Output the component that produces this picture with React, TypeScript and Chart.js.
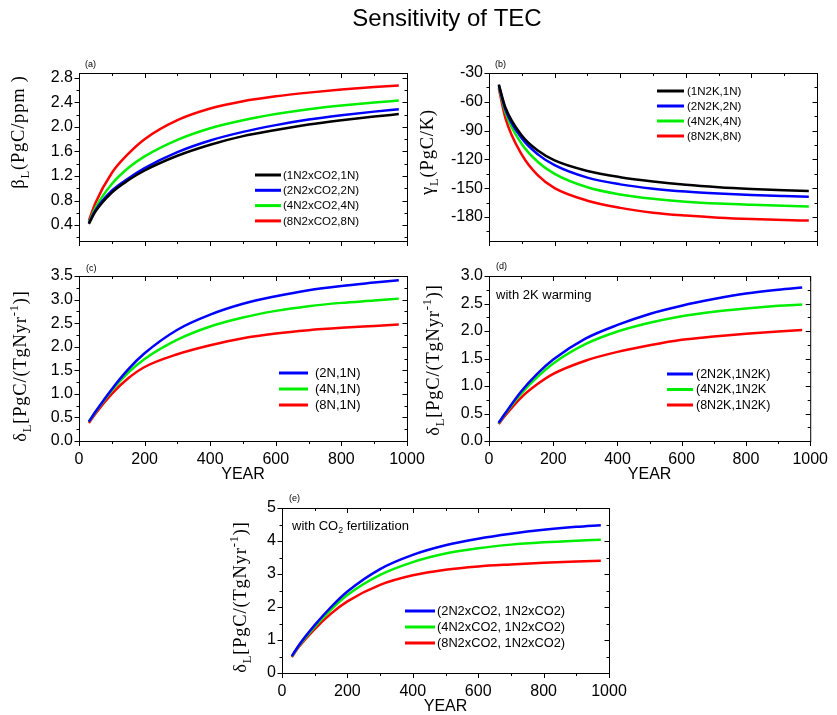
import React, { useEffect, useRef } from "react";
import { Chart, registerables } from "chart.js";
Chart.register(...registerables);

const W = 837;
const H = 715;
const SANS = '"Liberation Sans", Arial, sans-serif';
const SERIF = '"Liberation Serif", "Times New Roman", serif';

const BLACK = "#000000";
const BLUE = "#0000ff";
const GREEN = "#00ee00";
const RED = "#ff0000";

// ---------------- data ----------------
const YEARS = [30, 50, 100, 150, 200, 300, 400, 500, 600, 700, 800, 900, 975];
const X_TICKS = [0, 200, 400, 600, 800, 1000];
const X_MINOR = [100, 300, 500, 700, 900];

// (a) beta_L
const A_LABELS = ["(1N2xCO2,1N)", "(2N2xCO2,2N)", "(4N2xCO2,4N)", "(8N2xCO2,8N)"];
const A_1N = [0.42, 0.62, 0.93, 1.13, 1.29, 1.53, 1.71, 1.85, 1.95, 2.04, 2.11, 2.17, 2.21];
const A_2N = [0.43, 0.64, 0.96, 1.16, 1.33, 1.59, 1.78, 1.92, 2.03, 2.12, 2.19, 2.25, 2.29];
const A_4N = [0.44, 0.68, 1.07, 1.33, 1.52, 1.79, 1.98, 2.11, 2.21, 2.29, 2.35, 2.4, 2.43];
const A_8N = [0.47, 0.76, 1.25, 1.56, 1.8, 2.11, 2.3, 2.42, 2.5, 2.56, 2.61, 2.65, 2.675];
const A_Y_TICKS = [0.4, 0.8, 1.2, 1.6, 2.0, 2.4, 2.8];
const A_Y_MINOR = [0.2, 0.6, 1.0, 1.4, 1.8, 2.2, 2.6];

// (b) gamma_L
const B_LABELS = ["(1N2K,1N)", "(2N2K,2N)", "(4N2K,4N)", "(8N2K,8N)"];
const B_1N = [-42, -66, -95, -111, -121, -132, -138.5, -143, -146.5, -149, -150.8, -152.2, -153];
const B_2N = [-43, -68, -98, -115, -126, -139, -146, -150.5, -153.5, -155.5, -157, -158.2, -159];
const B_4N = [-44, -71, -104, -123, -135, -149, -156.5, -161, -164, -166, -167.3, -168.3, -169];
const B_8N = [-46, -77, -115, -137, -150, -163, -170.5, -175.5, -178.5, -180.7, -182.2, -183.2, -183.7];
const B_Y_TICKS = [-30, -60, -90, -120, -150, -180];
const B_Y_MINOR = [-45, -75, -105, -135, -165, -195];

// (c) delta_L
const C_LABELS = ["(2N,1N)", "(4N,1N)", "(8N,1N)"];
const C_2N = [0.41, 0.62, 1.1, 1.52, 1.86, 2.36, 2.68, 2.91, 3.07, 3.2, 3.29, 3.36, 3.41];
const C_4N = [0.41, 0.61, 1.07, 1.45, 1.74, 2.15, 2.43, 2.62, 2.76, 2.86, 2.93, 2.98, 3.02];
const C_8N = [0.38, 0.58, 1.0, 1.33, 1.57, 1.84, 2.03, 2.18, 2.28, 2.35, 2.4, 2.44, 2.47];
const C_Y_TICKS = [0, 0.5, 1.0, 1.5, 2.0, 2.5, 3.0, 3.5];
const C_Y_MINOR = [0.25, 0.75, 1.25, 1.75, 2.25, 2.75, 3.25];

// (d) delta_L with 2K warming
const D_LABELS = ["(2N2K,1N2K)", "(4N2K,1N2K", "(8N2K,1N2K)"];
const D_2N = [0.33, 0.5, 0.9, 1.22, 1.48, 1.86, 2.11, 2.31, 2.46, 2.58, 2.68, 2.75, 2.79];
const D_4N = [0.32, 0.49, 0.86, 1.16, 1.41, 1.76, 1.99, 2.15, 2.27, 2.35, 2.41, 2.46, 2.48];
const D_8N = [0.31, 0.46, 0.79, 1.03, 1.22, 1.46, 1.62, 1.74, 1.84, 1.9, 1.95, 1.99, 2.02];
const D_Y_TICKS = [0, 0.5, 1.0, 1.5, 2.0, 2.5, 3.0];
const D_Y_MINOR = [0.25, 0.75, 1.25, 1.75, 2.25, 2.75];

// (e) delta_L with CO2 fertilization
const E_LABELS = ["(2N2xCO2, 1N2xCO2)", "(4N2xCO2, 1N2xCO2)", "(8N2xCO2, 1N2xCO2)"];
const E_2N = [0.51, 0.82, 1.45, 2.0, 2.47, 3.15, 3.58, 3.87, 4.07, 4.22, 4.34, 4.43, 4.48];
const E_4N = [0.5, 0.8, 1.4, 1.92, 2.36, 2.97, 3.36, 3.62, 3.78, 3.89, 3.96, 4.01, 4.04];
const E_8N = [0.48, 0.77, 1.33, 1.8, 2.17, 2.67, 2.96, 3.13, 3.23, 3.29, 3.34, 3.38, 3.4];
const E_Y_TICKS = [0, 1, 2, 3, 4, 5];
const E_Y_MINOR = [0.5, 1.5, 2.5, 3.5, 4.5];

// ---------------- panel specs ----------------
type Seg = { t: string; sub?: boolean; sup?: boolean };
interface Series { label: string; color: string; data: number[] }
interface Panel {
  id: string;
  letter: string;
  letterPos: [number, number];
  plot: { l: number; r: number; t: number; b: number };
  yMin: number;
  yMax: number;
  yTicks: number[];
  yMinor: number[];
  yDec: number;
  xLabels: boolean;
  series: Series[];
  legend: { x0: number; x1: number; tx: number; y0: number; dy: number; size: number };
  note?: { x: number; y: number; segs: Seg[] };
  yTitle: { x: number; cy: number; segs: Seg[] };
  mainTitle?: boolean;
}

const DELTA_TITLE: Seg[] = [
  { t: "δ" },
  { t: "L", sub: true },
  { t: "[PgC/(TgNyr" },
  { t: "-1", sup: true },
  { t: ")]" },
];

const PANELS: Panel[] = [
  {
    id: "a",
    letter: "(a)",
    letterPos: [85, 65],
    plot: { l: 79, r: 407, t: 73, b: 241 },
    yMin: 0.14,
    yMax: 2.88,
    yTicks: A_Y_TICKS,
    yMinor: A_Y_MINOR,
    yDec: 1,
    xLabels: false,
    series: [
      { label: A_LABELS[0], color: BLACK, data: A_1N },
      { label: A_LABELS[1], color: BLUE, data: A_2N },
      { label: A_LABELS[2], color: GREEN, data: A_4N },
      { label: A_LABELS[3], color: RED, data: A_8N },
    ],
    legend: { x0: 255, x1: 281, tx: 283, y0: 175, dy: 15.3, size: 11.5 },
    yTitle: { x: 18, cy: 132, segs: [{ t: "β" }, { t: "L", sub: true }, { t: "(PgC/ppm )" }] },
    mainTitle: true,
  },
  {
    id: "b",
    letter: "(b)",
    letterPos: [495, 65],
    plot: { l: 489, r: 817, t: 73, b: 241 },
    yMin: -205,
    yMax: -30,
    yTicks: B_Y_TICKS,
    yMinor: B_Y_MINOR,
    yDec: 0,
    xLabels: false,
    series: [
      { label: B_LABELS[0], color: BLACK, data: B_1N },
      { label: B_LABELS[1], color: BLUE, data: B_2N },
      { label: B_LABELS[2], color: GREEN, data: B_4N },
      { label: B_LABELS[3], color: RED, data: B_8N },
    ],
    legend: { x0: 657, x1: 684, tx: 687, y0: 91, dy: 15, size: 11.5 },
    yTitle: { x: 427, cy: 152, segs: [{ t: "γ" }, { t: "L", sub: true }, { t: "(PgC/K)" }] },
  },
  {
    id: "c",
    letter: "(c)",
    letterPos: [86, 269],
    plot: { l: 79, r: 407, t: 276, b: 441 },
    yMin: 0,
    yMax: 3.5,
    yTicks: C_Y_TICKS,
    yMinor: C_Y_MINOR,
    yDec: 1,
    xLabels: true,
    series: [
      { label: C_LABELS[0], color: BLUE, data: C_2N },
      { label: C_LABELS[1], color: GREEN, data: C_4N },
      { label: C_LABELS[2], color: RED, data: C_8N },
    ],
    legend: { x0: 279, x1: 308, tx: 315, y0: 373, dy: 16, size: 13 },
    yTitle: { x: 20, cy: 366, segs: DELTA_TITLE },
  },
  {
    id: "d",
    letter: "(d)",
    letterPos: [496, 267],
    plot: { l: 489, r: 817, t: 276, b: 441 },
    yMin: 0,
    yMax: 3,
    yTicks: D_Y_TICKS,
    yMinor: D_Y_MINOR,
    yDec: 1,
    xLabels: true,
    series: [
      { label: D_LABELS[0], color: BLUE, data: D_2N },
      { label: D_LABELS[1], color: GREEN, data: D_4N },
      { label: D_LABELS[2], color: RED, data: D_8N },
    ],
    legend: { x0: 667, x1: 693, tx: 696, y0: 374, dy: 15.5, size: 12.5 },
    note: { x: 496, y: 294, segs: [{ t: "with 2K warming" }] },
    yTitle: { x: 433, cy: 360, segs: DELTA_TITLE },
  },
  {
    id: "e",
    letter: "(e)",
    letterPos: [289, 499],
    plot: { l: 282, r: 609, t: 508, b: 673 },
    yMin: 0,
    yMax: 5,
    yTicks: E_Y_TICKS,
    yMinor: E_Y_MINOR,
    yDec: 0,
    xLabels: true,
    series: [
      { label: E_LABELS[0], color: BLUE, data: E_2N },
      { label: E_LABELS[1], color: GREEN, data: E_4N },
      { label: E_LABELS[2], color: RED, data: E_8N },
    ],
    legend: { x0: 405, x1: 435, tx: 437, y0: 611, dy: 16, size: 12.8 },
    note: { x: 292, y: 525, segs: [{ t: "with CO" }, { t: "2", sub: true }, { t: " fertilization" }] },
    yTitle: { x: 240, cy: 597, segs: DELTA_TITLE },
  },
];

// ---------------- drawing helpers ----------------
function drawSegs(
  ctx: CanvasRenderingContext2D,
  segs: Seg[],
  x: number,
  baseline: number,
  size: number,
  family: string,
  center: boolean,
  spacing = 0
) {
  const parts = segs.map((s) => {
    const fs = s.sub || s.sup ? size * 0.68 : size;
    ctx.font = `${fs}px ${family}`;
    const chars = Array.from(s.t).map((ch) => ({ ch, w: ctx.measureText(ch).width + spacing }));
    const w = spacing ? chars.reduce((a, c) => a + c.w, 0) : ctx.measureText(s.t).width;
    return { ...s, fs, chars, w };
  });
  const total = parts.reduce((acc, p) => acc + p.w, 0);
  let cx = center ? x - total / 2 : x;
  ctx.textAlign = "left";
  ctx.textBaseline = "alphabetic";
  for (const p of parts) {
    ctx.font = `${p.fs}px ${family}`;
    const dy = p.sub ? size * 0.25 : p.sup ? -size * 0.42 : 0;
    if (spacing) {
      for (const c of p.chars) {
        ctx.fillText(c.ch, cx, baseline + dy);
        cx += c.w;
      }
    } else {
      ctx.fillText(p.t, cx, baseline + dy);
      cx += p.w;
    }
  }
}

function decor(p: Panel) {
  return {
    id: "decor_" + p.id,
    afterDatasetsDraw(chart: any) {
      const ctx: CanvasRenderingContext2D = chart.ctx;
      const a = chart.chartArea;
      const xs = chart.scales.x;
      const ys = chart.scales.y;
      ctx.save();
      ctx.strokeStyle = "#000";
      ctx.fillStyle = "#000";
      ctx.lineWidth = 1;
      // frame
      ctx.strokeRect(a.left + 0.5, a.top + 0.5, a.right - a.left, a.bottom - a.top);
      ctx.beginPath();
      const xTick = (v: number, len: number) => {
        const px = Math.round(xs.getPixelForValue(v)) + 0.5;
        ctx.moveTo(px, a.bottom);
        ctx.lineTo(px, a.bottom + len);
        ctx.moveTo(px, a.top);
        ctx.lineTo(px, a.top + len);
      };
      const yTick = (v: number, len: number) => {
        const py = Math.round(ys.getPixelForValue(v)) + 0.5;
        if (py < a.top || py > a.bottom + 1) return;
        ctx.moveTo(a.left - len + 0.5, py);
        ctx.lineTo(a.left + 0.5, py);
        ctx.moveTo(a.right + 0.5, py);
        ctx.lineTo(a.right + 0.5 - len, py);
      };
      X_TICKS.forEach((v) => xTick(v, 5));
      X_MINOR.forEach((v) => xTick(v, 3));
      p.yTicks.forEach((v) => yTick(v, 5));
      p.yMinor.forEach((v) => yTick(v, 3));
      ctx.stroke();

      // legend
      const lg = p.legend;
      p.series.forEach((s, i) => {
        const y = lg.y0 + i * lg.dy;
        ctx.beginPath();
        ctx.strokeStyle = s.color;
        ctx.lineWidth = 3;
        ctx.moveTo(lg.x0, y);
        ctx.lineTo(lg.x1, y);
        ctx.stroke();
        ctx.font = `${lg.size}px ${SANS}`;
        ctx.fillStyle = "#000";
        ctx.textAlign = "left";
        ctx.textBaseline = "middle";
        ctx.fillText(s.label, lg.tx, y + 0.5);
      });

      // panel letter
      ctx.fillStyle = "#000";
      ctx.font = `9px ${SANS}`;
      ctx.textAlign = "left";
      ctx.textBaseline = "middle";
      ctx.fillText(p.letter, p.letterPos[0], p.letterPos[1]);

      // note
      if (p.note) {
        drawSegs(ctx, p.note.segs, p.note.x, p.note.y + 4.5, 13, SANS, false);
      }

      // y title
      ctx.save();
      ctx.translate(p.yTitle.x, p.yTitle.cy);
      ctx.rotate(-Math.PI / 2);
      drawSegs(ctx, p.yTitle.segs, 0, 6, 18.5, SERIF, true, 0.8);
      ctx.restore();

      // x title
      if (p.xLabels) {
        ctx.font = `16px ${SANS}`;
        ctx.textAlign = "center";
        ctx.textBaseline = "middle";
        ctx.fillText("YEAR", (a.left + a.right) / 2, a.bottom + 34);
      }

      if (p.mainTitle) {
        ctx.font = `24px ${SANS}`;
        ctx.textAlign = "center";
        ctx.textBaseline = "alphabetic";
        ctx.fillText("Sensitivity of TEC", 447, 26);
      }
      ctx.restore();
    },
  };
}

function buildConfig(p: Panel): any {
  const yW = 60;
  const xH = 40;
  return {
    type: "line",
    data: {
      datasets: p.series.map((s) => ({
        label: s.label,
        data: YEARS.map((x, i) => ({ x, y: s.data[i] })),
        borderColor: s.color,
        backgroundColor: s.color,
        borderWidth: 2.5,
        pointRadius: 0,
        cubicInterpolationMode: "monotone",
        fill: false,
      })),
    },
    options: {
      responsive: false,
      animation: false,
      devicePixelRatio: 1,
      events: [],
      layout: {
        padding: {
          left: p.plot.l - yW,
          right: W - p.plot.r,
          top: p.plot.t,
          bottom: H - p.plot.b - xH,
        },
      },
      plugins: {
        legend: { display: false },
        title: { display: false },
        tooltip: { enabled: false },
      },
      scales: {
        x: {
          type: "linear",
          min: 0,
          max: 1000,
          grid: { display: false, drawTicks: false },
          border: { display: false },
          afterBuildTicks: (s: any) => {
            s.ticks = X_TICKS.map((v) => ({ value: v }));
          },
          afterFit: (s: any) => {
            s.height = xH;
          },
          ticks: {
            display: p.xLabels,
            padding: 9,
            autoSkip: false,
            maxRotation: 0,
            color: "#000",
            font: { family: SANS, size: 16 },
            callback: (v: any) => String(v),
          },
        },
        y: {
          type: "linear",
          min: p.yMin,
          max: p.yMax,
          grid: { display: false, drawTicks: false },
          border: { display: false },
          afterBuildTicks: (s: any) => {
            s.ticks = p.yTicks.map((v) => ({ value: v }));
          },
          afterFit: (s: any) => {
            s.width = yW;
          },
          ticks: {
            padding: 6,
            autoSkip: false,
            color: "#000",
            font: { family: SANS, size: 16 },
            callback: (v: any) => Number(v).toFixed(p.yDec),
          },
        },
      },
    },
    plugins: [decor(p)],
  };
}

function PanelChart({ p }: { p: Panel }) {
  const ref = useRef<HTMLCanvasElement>(null);
  useEffect(() => {
    const chart = new Chart(ref.current as HTMLCanvasElement, buildConfig(p));
    return () => chart.destroy();
  }, [p]);
  return (
    <canvas
      ref={ref}
      width={W}
      height={H}
      style={{ position: "absolute", left: 0, top: 0, width: W, height: H }}
    />
  );
}

export default function App() {
  return (
    <div style={{ position: "absolute", left: 0, top: 0, width: W, height: H, background: "#fff" }}>
      {PANELS.map((p) => (
        <PanelChart key={p.id} p={p} />
      ))}
    </div>
  );
}
